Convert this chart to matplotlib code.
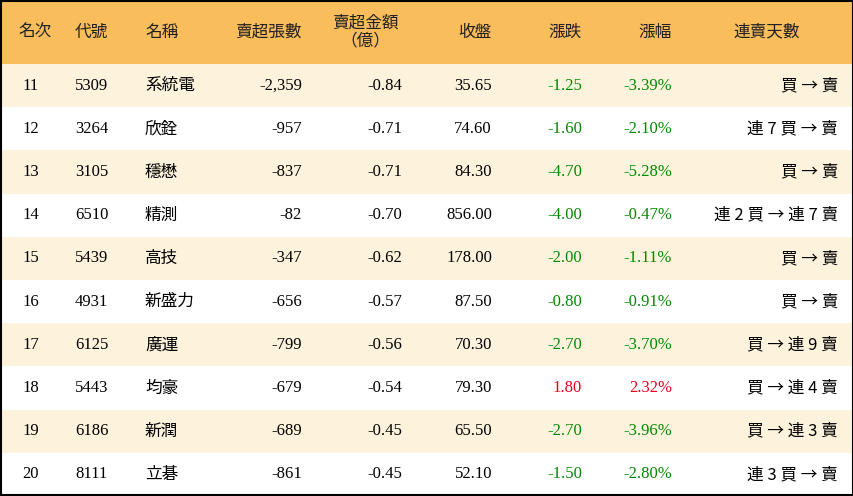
import matplotlib
matplotlib.use("Agg")
import matplotlib.pyplot as plt
from matplotlib import font_manager
from matplotlib.patches import Rectangle

ranks = list(range(11, 21))
codes = ["5309", "3264", "3105", "6510", "5439", "4931", "6125", "5443", "6186", "8111"]
names = ["系統電", "欣銓", "穩懋", "精測", "高技", "新盛力", "廣運", "均豪", "新潤", "立碁"]
net_sell = [-2359, -957, -837, -82, -347, -656, -799, -679, -689, -861]
net_amt = [-0.84, -0.71, -0.71, -0.70, -0.62, -0.57, -0.56, -0.54, -0.45, -0.45]
close = [35.65, 74.60, 84.30, 856.00, 178.00, 87.50, 70.30, 79.30, 65.50, 52.10]
change = [-1.25, -1.60, -4.70, -4.00, -2.00, -0.80, -2.70, 1.80, -2.70, -1.50]
pct = [-3.39, -2.10, -5.28, -0.47, -1.11, -0.91, -3.70, 2.32, -3.96, -2.80]
streak = ["買 → 賣", "連 7 買 → 賣", "買 → 賣", "連 2 買 → 連 7 賣", "買 → 賣",
          "買 → 賣", "買 → 連 9 賣", "買 → 連 4 賣", "買 → 連 3 賣", "連 3 買 → 賣"]

# find an installed CJK font by name
cjk_names = sorted({f.name for f in font_manager.fontManager.ttflist if "CJK" in f.name})
CJK = next((n for n in cjk_names if "TC" in n), cjk_names[0] if cjk_names else "DejaVu Sans")
NUM = "Liberation Serif"

W, H = 854, 496
HEAD = 64
ROW = (H - HEAD) / len(ranks)

fig = plt.figure(figsize=(W / 100, H / 100), dpi=100)
ax = fig.add_axes([0, 0, 1, 1])
ax.set_xlim(0, W)
ax.set_ylim(H, 0)
ax.axis("off")

ax.add_patch(Rectangle((0, 0), W, HEAD, color="#F9BD5C", lw=0))
for i in range(len(ranks)):
    c = "#FDF3DC" if i % 2 == 0 else "white"
    ax.add_patch(Rectangle((0, HEAD + i * ROW), W, ROW, color=c, lw=0))
ax.add_patch(Rectangle((1, 1), W - 2, H - 2, fill=False, ec="black", lw=1.5))

fs = 12
hy = HEAD / 2
hdr = dict(fontsize=fs, va="center", color="#222222", fontfamily=CJK)
ax.text(35, hy, "名次", ha="center", **hdr)
ax.text(75, hy, "代號", ha="left", **hdr)
ax.text(145, hy, "名稱", ha="left", **hdr)
ax.text(302, hy, "賣超張數", ha="right", **hdr)
ax.text(365, hy, "賣超金額\n（億）", ha="center", linespacing=1.0, **hdr)
ax.text(492, hy, "收盤", ha="right", **hdr)
ax.text(582, hy, "漲跌", ha="right", **hdr)
ax.text(672, hy, "漲幅", ha="right", **hdr)
ax.text(767, hy, "連賣天數", ha="center", **hdr)

green, red = "#008A00", "#E8001C"
for i in range(len(ranks)):
    y = HEAD + (i + 0.5) * ROW
    kw = dict(fontsize=fs, va="center", color="black", fontfamily=NUM)
    ax.text(22, y, str(ranks[i]), ha="left", **kw)
    ax.text(75, y, codes[i], ha="left", **kw)
    ax.text(145, y, names[i], ha="left", fontsize=fs, va="center", fontfamily=CJK)
    ax.text(302, y, f"{net_sell[i]:,}", ha="right", **kw)
    ax.text(402, y, f"{net_amt[i]:.2f}", ha="right", **kw)
    ax.text(492, y, f"{close[i]:.2f}", ha="right", **kw)
    col = red if change[i] > 0 else green
    ax.text(582, y, f"{change[i]:.2f}", ha="right", fontsize=fs, va="center", color=col, fontfamily=NUM)
    ax.text(672, y, f"{pct[i]:.2f}%", ha="right", fontsize=fs, va="center", color=col, fontfamily=NUM)
    ax.text(838, y, streak[i], ha="right", fontsize=fs, va="center", fontfamily=CJK)

fig.savefig("out.png", dpi=100)
